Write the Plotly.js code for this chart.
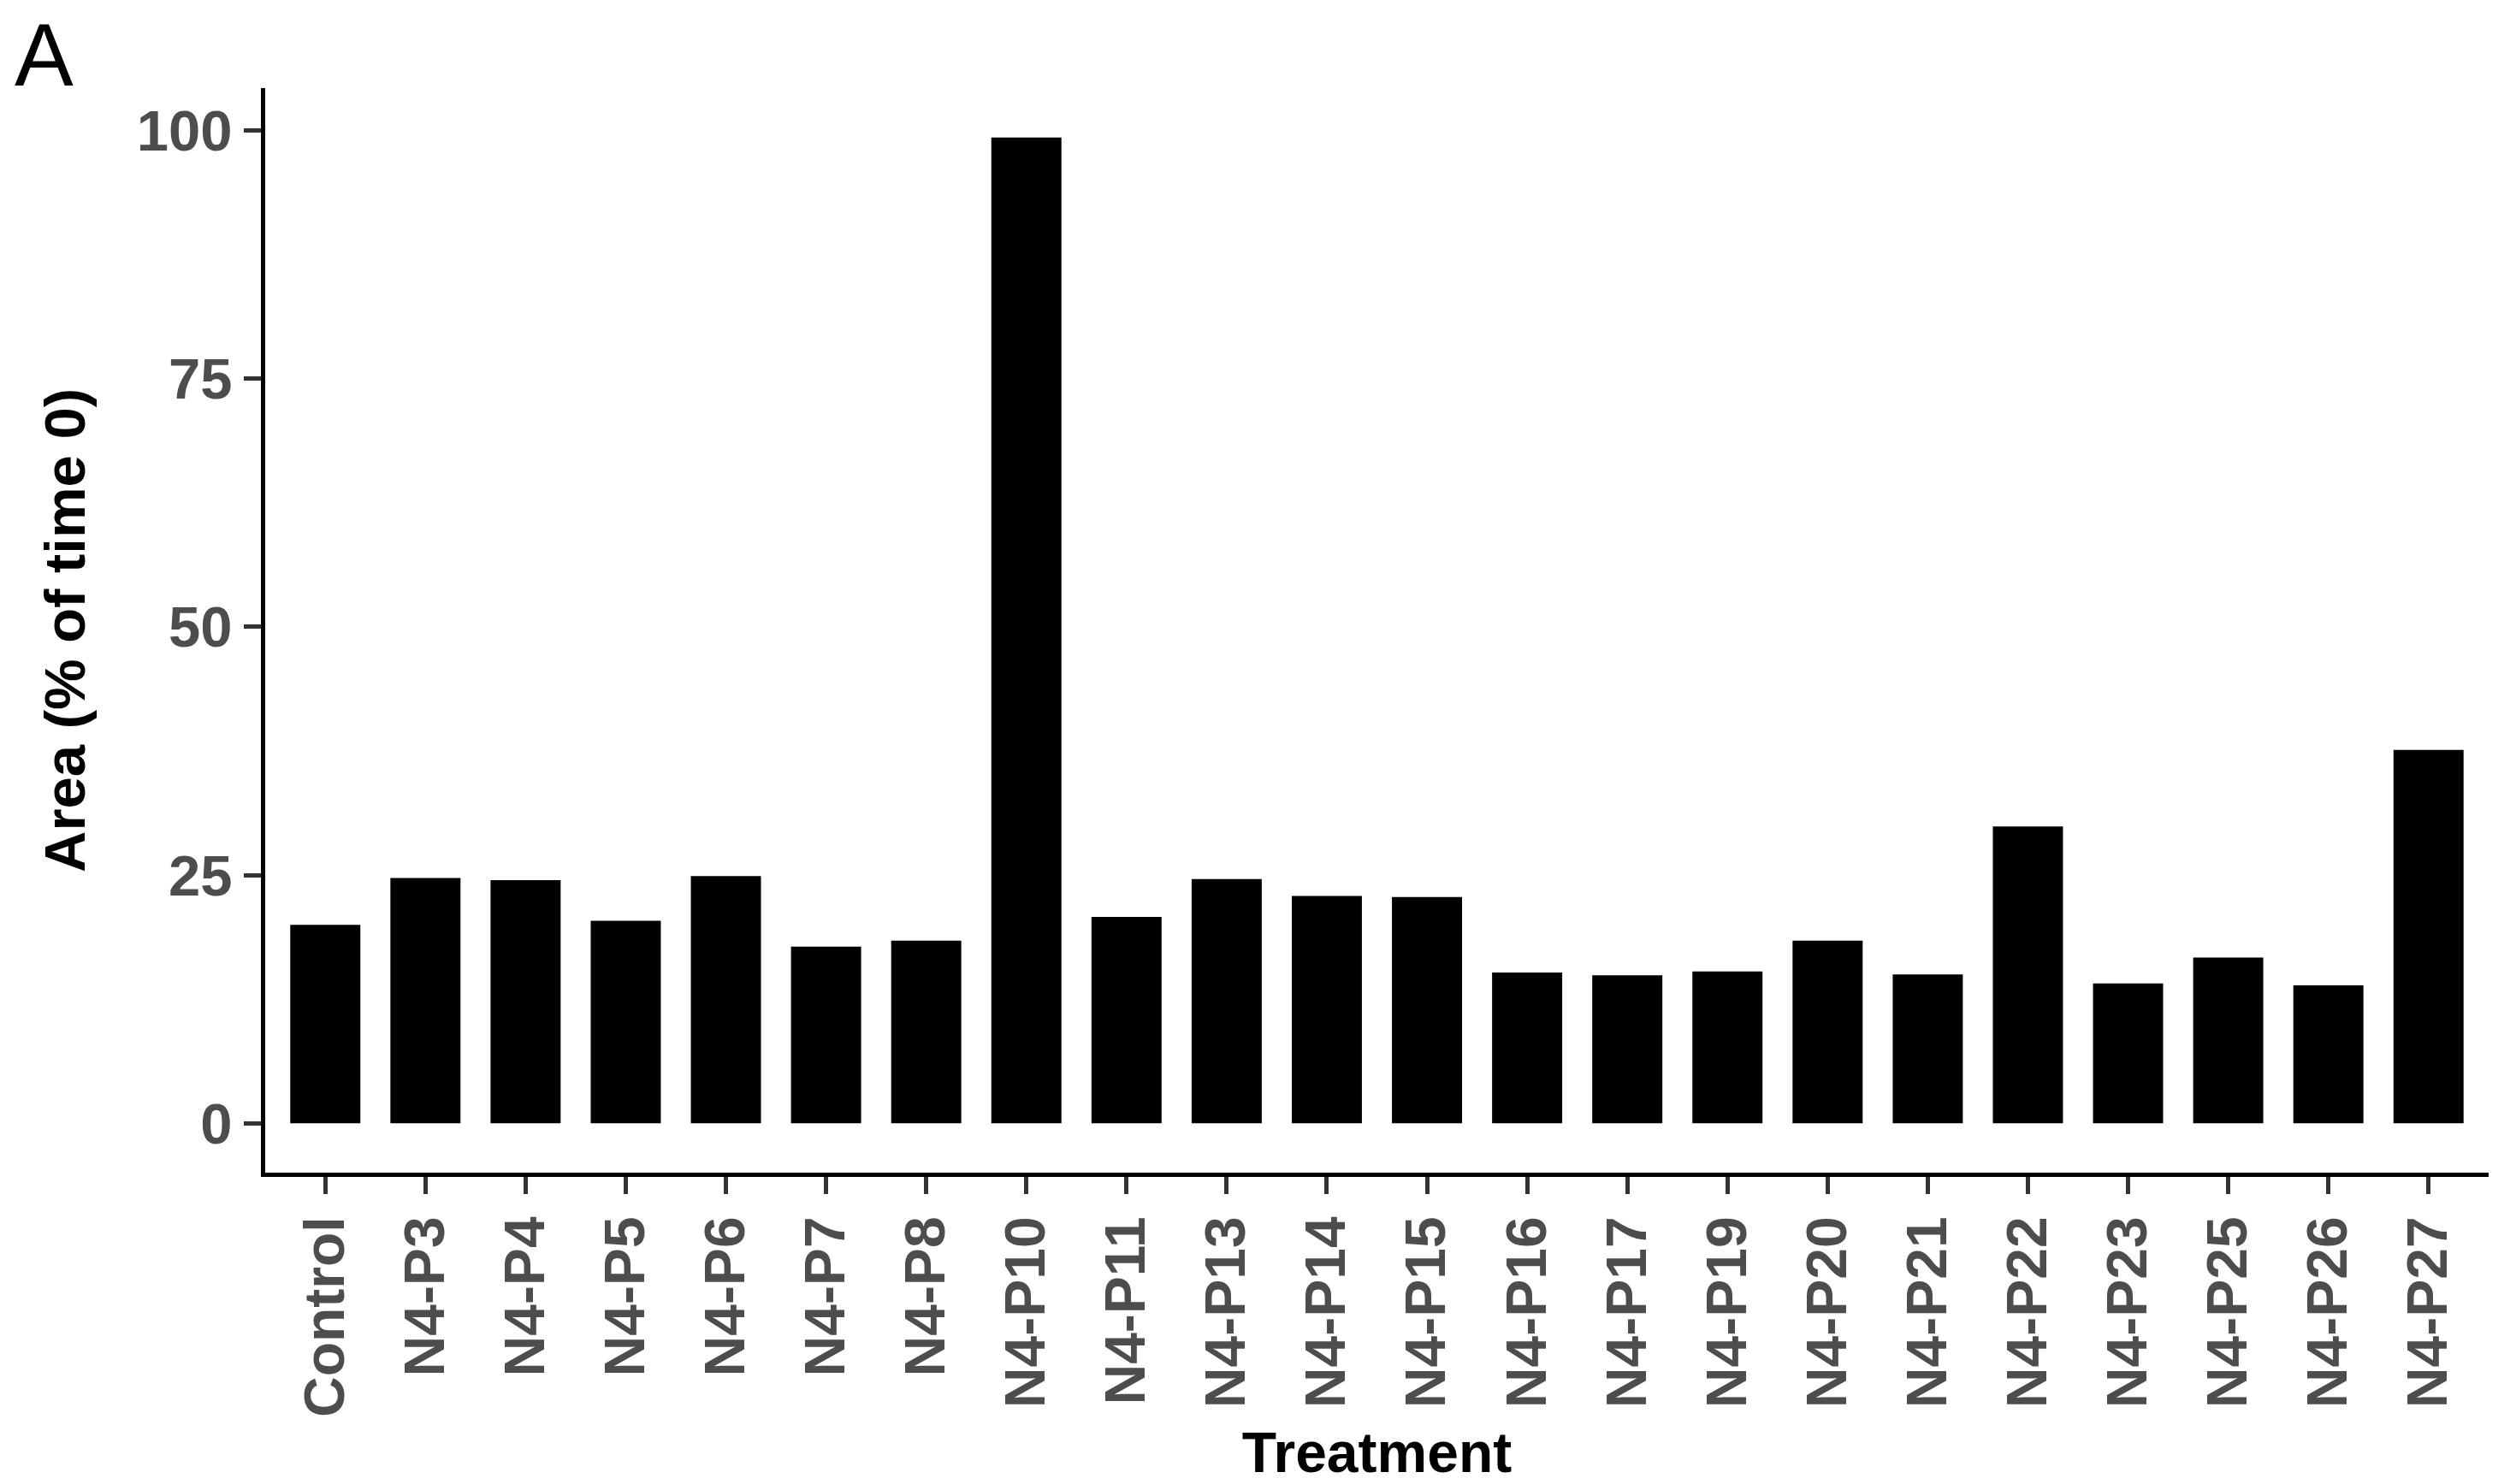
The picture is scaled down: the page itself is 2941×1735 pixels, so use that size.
<!DOCTYPE html>
<html>
<head>
<meta charset="utf-8">
<script src="https://cdn.plot.ly/plotly-3.0.1.min.js"></script>
<style>
  html, body { margin: 0; padding: 0; background: #ffffff; }
  #chart { width: 2941px; height: 1735px; }
</style>
</head>
<body>
<div id="chart"></div>
<script>
// Data
var treatments = ["Control", "N4-P3", "N4-P4", "N4-P5", "N4-P6", "N4-P7", "N4-P8", "N4-P10",
  "N4-P11", "N4-P13", "N4-P14", "N4-P15", "N4-P16", "N4-P17", "N4-P19", "N4-P20",
  "N4-P21", "N4-P22", "N4-P23", "N4-P25", "N4-P26", "N4-P27"];
var areaPct = [20.0, 24.7, 24.5, 20.4, 24.9, 17.8, 18.4, 99.3,
  20.8, 24.6, 22.9, 22.8, 15.2, 14.9, 15.3, 18.4,
  15.0, 29.9, 14.1, 16.7, 13.9, 37.6];
var yTicks = [0, 25, 50, 75, 100];
var panelLabel = "A";
var xTitle = "Treatment";
var yTitle = "Area (% of time 0)";

var FONT = "Liberation Sans, Arial, Helvetica, sans-serif";

var trace = {
  type: "bar",
  x: treatments,
  y: areaPct,
  width: 0.7,
  marker: { color: "#000000", line: { width: 0 } },
  hoverinfo: "x+y"
};

var layout = {
  width: 2941,
  height: 1735,
  paper_bgcolor: "#ffffff",
  plot_bgcolor: "#ffffff",
  margin: { l: 310, r: 32, t: 103, b: 364, pad: 0 },
  showlegend: false,
  font: { family: FONT, color: "#000000" },
  xaxis: {
    type: "category",
    range: [-0.6, treatments.length - 0.4],
    showline: true,
    linecolor: "#000000",
    linewidth: 5,
    showgrid: false,
    zeroline: false,
    ticks: "outside",
    ticklen: 20,
    tickwidth: 5,
    tickcolor: "#333333",
    tickangle: -90,
    ticklabelstandoff: 0,
    tickfont: { family: FONT, size: 66, color: "#4D4D4D", weight: "bold" },
    automargin: false,
    title: {
      text: xTitle,
      font: { family: FONT, size: 66, color: "#000000", weight: "bold" },
      standoff: 26
    }
  },
  yaxis: {
    range: [-4.97, 104.27],
    tickvals: yTicks,
    ticktext: yTicks.map(String),
    showline: true,
    linecolor: "#000000",
    linewidth: 5,
    showgrid: false,
    zeroline: false,
    ticks: "outside",
    ticklen: 20,
    tickwidth: 5,
    tickcolor: "#333333",
    ticklabelstandoff: 0,
    tickfont: { family: FONT, size: 67, color: "#4D4D4D", weight: "bold" },
    automargin: false,
    title: {
      text: yTitle,
      font: { family: FONT, size: 67, color: "#000000", weight: "bold" },
      standoff: 40
    }
  },
  annotations: [{
    text: panelLabel,
    xref: "paper", yref: "paper",
    x: -0.1135, y: 1.077,
    xanchor: "left", yanchor: "top",
    showarrow: false,
    font: { family: FONT, size: 103, color: "#000000" }
  }]
};

Plotly.newPlot("chart", [trace], layout, { staticPlot: true, displayModeBar: false });
</script>
</body>
</html>
